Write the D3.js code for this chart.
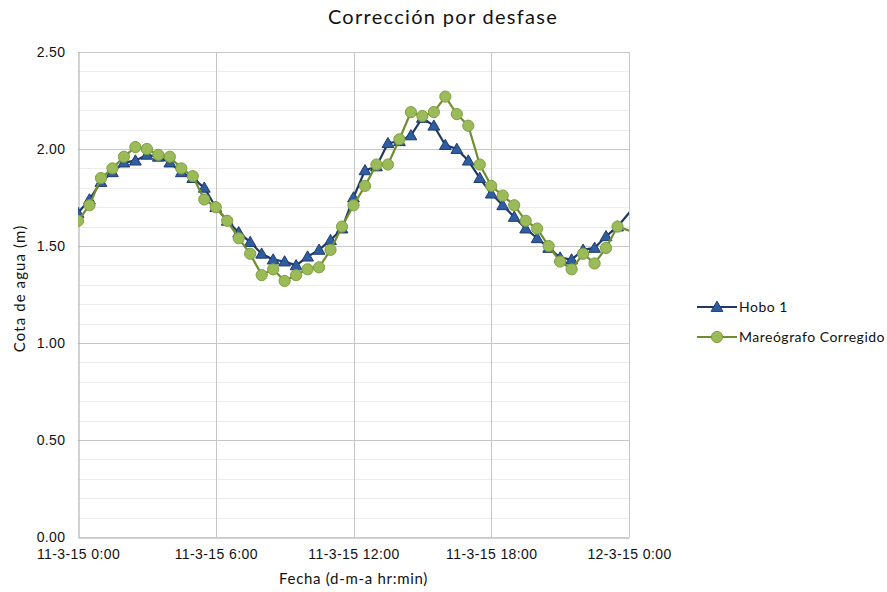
<!DOCTYPE html>
<html>
<head>
<meta charset="utf-8">
<script src="https://cdn.jsdelivr.net/npm/d3@7"></script>
<style>
  html, body { margin: 0; padding: 0; background: #ffffff; }
  svg { display: block; font-family: Lato, "Open Sans", sans-serif; }
</style>
</head>
<body>
<svg id="chart" width="887" height="592"></svg>
<script>
// Half-hourly water levels, 11-3-15 00:00 onward (last value runs past the axis end)
const hours = [0, 0.5, 1, 1.5, 2, 2.5, 3, 3.5, 4, 4.5, 5, 5.5, 6, 6.5, 7, 7.5, 8, 8.5, 9, 9.5,
  10, 10.5, 11, 11.5, 12, 12.5, 13, 13.5, 14, 14.5, 15, 15.5, 16, 16.5, 17, 17.5, 18, 18.5, 19, 19.5,
  20, 20.5, 21, 21.5, 22, 22.5, 23, 23.5, 24.5];

const hobo1 = [1.67, 1.74, 1.83, 1.88, 1.93, 1.94, 1.97, 1.96, 1.93, 1.88, 1.85, 1.80, 1.70, 1.63, 1.57, 1.52,
  1.46, 1.43, 1.42, 1.40, 1.445, 1.48, 1.53, 1.59, 1.75, 1.89, 1.91, 2.03, 2.04, 2.07, 2.16, 2.12,
  2.02, 2.00, 1.94, 1.85, 1.77, 1.71, 1.65, 1.59, 1.54, 1.49, 1.44, 1.43, 1.48, 1.49, 1.55, 1.60, 1.74];

const mareografo = [1.63, 1.71, 1.85, 1.90, 1.96, 2.01, 2.00, 1.97, 1.96, 1.90, 1.86, 1.74, 1.70, 1.63, 1.54, 1.46,
  1.35, 1.38, 1.32, 1.35, 1.38, 1.39, 1.48, 1.60, 1.71, 1.81, 1.92, 1.92, 2.05, 2.19, 2.17, 2.19,
  2.27, 2.18, 2.12, 1.92, 1.81, 1.76, 1.71, 1.63, 1.59, 1.50, 1.42, 1.38, 1.46, 1.41, 1.49, 1.60, 1.56];

const xTickHours = [0, 6, 12, 18, 24];
const xTickLabels = ["11-3-15 0:00", "11-3-15 6:00", "11-3-15 12:00", "11-3-15 18:00", "12-3-15 0:00"];
const yTicks = [0, 0.5, 1.0, 1.5, 2.0, 2.5];
const yMinorTicks = d3.range(0, 2.5001, 0.1);

const seriesNames = ["Hobo 1", "Mareógrafo Corregido"];

const svg = d3.select("#chart");
const plot = { left: 78, right: 629, top: 52, bottom: 537 };

const x = d3.scaleLinear().domain([0, 24]).range([plot.left, plot.right]);
const y = d3.scaleLinear().domain([0, 2.5]).range([plot.bottom, plot.top]);

const colors = {
  blueLine: "#1f3864", blueFill: "#2e5da0", blueStroke: "#1f3a70",
  greenLine: "#6f8f2e", greenFill: "#9bbb59", greenStroke: "#7f9f3f",
  text: "#111111"
};

svg.append("defs").append("clipPath").attr("id", "plotClip")
  .append("rect")
  .attr("x", plot.left).attr("y", plot.top - 10)
  .attr("width", plot.right - plot.left).attr("height", plot.bottom - plot.top + 20);

// Minor horizontal grid
svg.append("g").selectAll("line").data(yMinorTicks).join("line")
  .attr("x1", plot.left).attr("x2", plot.right)
  .attr("y1", d => Math.round(y(d)) + 0.5).attr("y2", d => Math.round(y(d)) + 0.5)
  .attr("stroke", "#ececec").attr("stroke-width", 1);

// Major horizontal grid
svg.append("g").selectAll("line").data(yTicks.slice(1)).join("line")
  .attr("x1", plot.left).attr("x2", plot.right)
  .attr("y1", d => Math.round(y(d)) + 0.5).attr("y2", d => Math.round(y(d)) + 0.5)
  .attr("stroke", "#c6c6c6").attr("stroke-width", 1);

// Vertical grid
svg.append("g").selectAll("line").data(xTickHours.slice(1)).join("line")
  .attr("x1", d => Math.round(x(d)) + 0.5).attr("x2", d => Math.round(x(d)) + 0.5)
  .attr("y1", plot.top).attr("y2", plot.bottom)
  .attr("stroke", "#c6c6c6").attr("stroke-width", 1);

// Axes
const yAxis = d3.axisLeft(y).tickValues(yTicks).tickFormat(d3.format(".2f")).tickSize(0).tickPadding(13);
const gy = svg.append("g").attr("transform", `translate(${plot.left + 0.5},0)`).call(yAxis);
gy.select(".domain").attr("stroke", "#a6a6a6");
gy.selectAll("text").attr("font-size", 14).attr("letter-spacing", 0.4).attr("fill", colors.text);

const xAxis = d3.axisBottom(x).tickValues(xTickHours).tickFormat((d, i) => xTickLabels[i]).tickSize(0).tickPadding(12);
const gx = svg.append("g").attr("transform", `translate(0,${plot.bottom + 0.5})`).call(xAxis);
gx.select(".domain").attr("stroke", "#a6a6a6");
gx.selectAll("text").attr("font-size", 14).attr("letter-spacing", 0.4).attr("fill", colors.text);

// Titles
svg.append("text").attr("x", 443).attr("y", 24).attr("text-anchor", "middle")
  .attr("font-size", 20).attr("letter-spacing", 1.3).attr("fill", colors.text).text("Corrección por desfase");

svg.append("text").attr("x", (plot.left + plot.right) / 2).attr("y", 584).attr("text-anchor", "middle")
  .attr("font-size", 15).attr("letter-spacing", 0.7).attr("fill", colors.text).text("Fecha (d-m-a hr:min)");

svg.append("text").attr("transform", `translate(25,${(plot.top + plot.bottom) / 2 - 6}) rotate(-90)`)
  .attr("text-anchor", "middle").attr("font-size", 15).attr("letter-spacing", 1.1)
  .attr("fill", colors.text).text("Cota de agua (m)");

// Series
const pts = vals => hours.map((h, i) => ({ h, v: vals[i] }));
const line = d3.line().x(d => x(d.h)).y(d => y(d.v));
const clipG = svg.append("g").attr("clip-path", "url(#plotClip)");
const triangle = d3.symbol().type(d3.symbolTriangle).size(60);
const inDomain = d => d.h <= 24;

const bluePts = pts(hobo1);
const greenPts = pts(mareografo);

clipG.append("path").datum(bluePts).attr("d", line)
  .attr("fill", "none").attr("stroke", colors.blueLine).attr("stroke-width", 2.2);
clipG.append("g").selectAll("path").data(bluePts.filter(inDomain)).join("path")
  .attr("d", triangle).attr("transform", d => `translate(${x(d.h)},${y(d.v) + 1})`)
  .attr("fill", colors.blueFill).attr("stroke", colors.blueStroke).attr("stroke-width", 1);

clipG.append("path").datum(greenPts).attr("d", line)
  .attr("fill", "none").attr("stroke", colors.greenLine).attr("stroke-width", 2.2);
clipG.append("g").selectAll("circle").data(greenPts.filter(inDomain)).join("circle")
  .attr("cx", d => x(d.h)).attr("cy", d => y(d.v)).attr("r", 5.6)
  .attr("fill", colors.greenFill).attr("stroke", colors.greenStroke).attr("stroke-width", 1);

// Legend
const legend = svg.append("g").attr("transform", "translate(697,307)");
seriesNames.forEach((name, i) => {
  const g = legend.append("g").attr("transform", `translate(0,${i * 30})`);
  const isBlue = i === 0;
  g.append("line").attr("x1", 0).attr("x2", 40).attr("y1", 0).attr("y2", 0)
    .attr("stroke", isBlue ? colors.blueLine : colors.greenLine).attr("stroke-width", 2.2);
  if (isBlue) {
    g.append("path").attr("d", triangle).attr("transform", "translate(20,1)")
      .attr("fill", colors.blueFill).attr("stroke", colors.blueStroke);
  } else {
    g.append("circle").attr("cx", 20).attr("cy", 0).attr("r", 5.6)
      .attr("fill", colors.greenFill).attr("stroke", colors.greenStroke);
  }
  g.append("text").attr("x", 42).attr("y", 5).attr("font-size", 14).attr("letter-spacing", 0.5)
    .attr("fill", colors.text).text(name);
});
</script>
</body>
</html>
